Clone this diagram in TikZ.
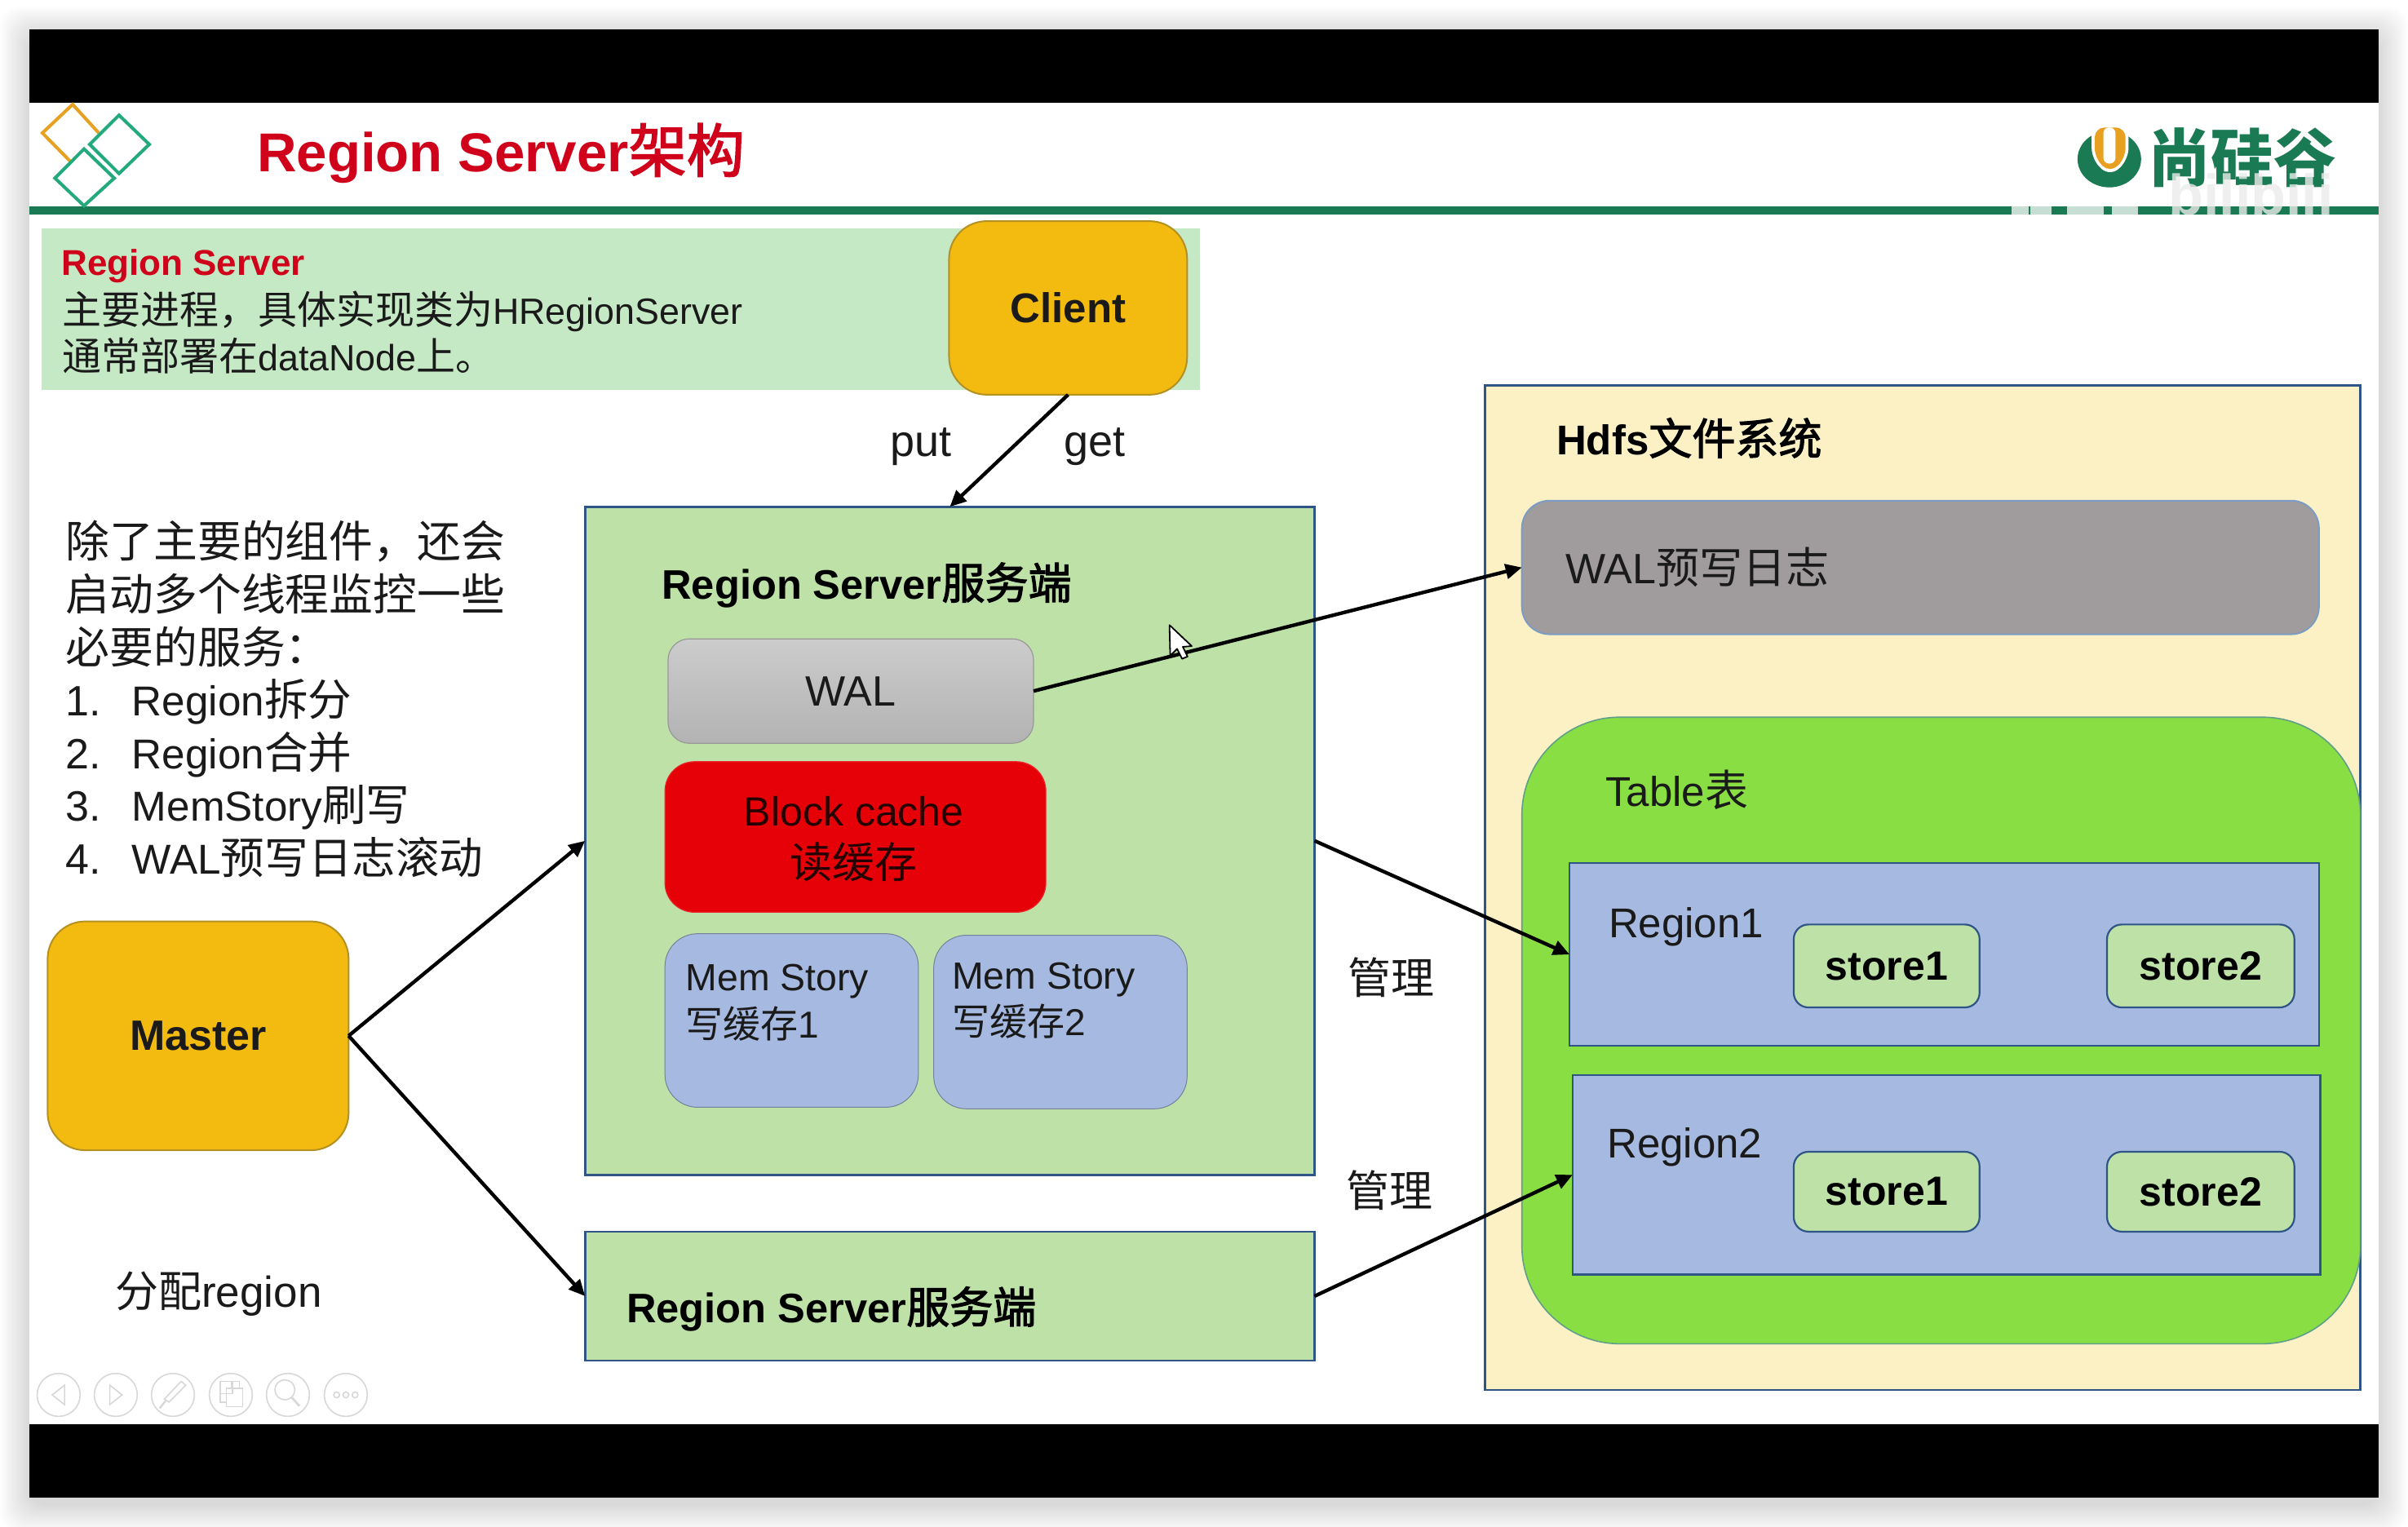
\documentclass[tikz,border=0pt]{standalone}
\usepackage{fontspec}
\setmainfont{Liberation Sans}
\newfontfamily\cjk{Noto Sans CJK SC}
\newfontfamily\cjkb{Noto Sans CJK SC}[FakeBold=2.2]
\usetikzlibrary{arrows.meta,shapes.geometric}
\definecolor{ink}{HTML}{1A1A1A}
\definecolor{brandgreen}{HTML}{1A7A54}
\definecolor{logogreen}{HTML}{22A97C}
\definecolor{logoorange}{HTML}{E8A020}
\definecolor{titlered}{HTML}{D0021B}
\definecolor{bandgreen}{HTML}{C5E8C5}
\definecolor{gold}{HTML}{F3BA0F}
\definecolor{goldline}{HTML}{B39020}
\definecolor{rsgreen}{HTML}{BDE1A7}
\definecolor{navy}{HTML}{2E5585}
\definecolor{hdfsyellow}{HTML}{FCF0C5}
\definecolor{tablegreen}{HTML}{88DE43}
\definecolor{tableline}{HTML}{5FA08A}
\definecolor{regionblue}{HTML}{A6B9E0}
\definecolor{loggray}{HTML}{A09B9D}
\definecolor{logline}{HTML}{7C9CC4}
\definecolor{cachered}{HTML}{E60008}
\definecolor{toolgray}{HTML}{D8D8D8}
\newcommand{\fs}[1]{\fontsize{#1}{#1}\selectfont}
\newcommand{\zh}[2]{{\cjk\fontsize{#1}{#1}\selectfont #2}}
\newcommand{\zb}[2]{{\cjkb\mdseries\fontsize{#1}{#1}\selectfont #2}}
\newcommand{\bx}[7]{%
  \pgfmathsetmacro\bxw{(#5-#3)*0.94133}%
  \pgfmathsetmacro\bxh{(#6-#4)*0.94133}%
  \pgfmathsetmacro\bxx{(#3+#5)/2}%
  \pgfmathsetmacro\bxy{(#4+#6)/2}%
  \node[#2,minimum width=\bxw pt,minimum height=\bxh pt,inner sep=0pt,outer sep=0pt] (#1) at (\bxx,\bxy) {#7};}
\newcommand{\tx}[4]{\node[lab] (#1) at (#2,#3) {#4};}
\tikzset{
  lab/.style={inner sep=0pt,outer sep=0pt,anchor=base west,text=ink},
  labc/.style={inner sep=0pt,outer sep=0pt,anchor=base,text=ink},
  goldbox/.style={draw=goldline,line width=1pt,fill=gold,rounded corners=23pt,text=ink},
  rsbox/.style={draw=navy,line width=1.3pt,fill=rsgreen},
  regionbox/.style={draw=navy,line width=1.3pt,fill=regionblue},
  storebox/.style={draw=navy,line width=1.1pt,fill=rsgreen,rounded corners=9pt,text=black},
  membox/.style={draw=black!30!regionblue,line width=.5pt,fill=regionblue,rounded corners=20pt},
  conn/.style={draw=black,line width=2.2pt,-{Triangle[length=10pt,width=9pt]}},
  toolbtn/.style={draw=toolgray,line width=.8pt,fill=none},
  diamondline/.style={line width=2pt,line join=miter},
}
\begin{document}
\begin{tikzpicture}[x=0.94133pt,y=-0.94133pt]
\useasboundingbox (0,0) rectangle (1568,994.3);
\fill[white] (0,0) rectangle (1568,994.3);
% soft shadow
\foreach \d in {1,...,19}{
  \fill[black,opacity=.008,rounded corners=12pt] (19.1-\d,19.1-\d+4) rectangle (1548.8+\d,975.3+\d+4);
}
% slide
\fill[white] (19.1,19.1) rectangle (1548.8,975.3);
\fill[black] (19.1,19.1) rectangle (1548.8,66.9);
\fill[black] (19.1,927.4) rectangle (1548.8,975.3);
\fill[brandgreen] (19.1,134.4) rectangle (1548.8,139.7);
% logo diamonds
\draw[logoorange,diamondline] (45.7,105) -- (27.6,86.6) -- (47.3,68) -- (64.3,86.6);
\draw[logogreen,diamondline] (77.5,75) -- (97.2,94) -- (77.5,113) -- (58.4,94) -- cycle;
\draw[white,line width=4pt] (54.7,97) -- (74.4,116);
\draw[logogreen,diamondline] (54.7,97) -- (74.4,116) -- (54.7,134) -- (35.8,116) -- cycle;
% title
\tx{title}{167.4}{112}{\bfseries\color{titlered}\fs{33.6}Region Server\zb{35.5}{架构}}
% brand logo
\fill[brandgreen] (1373.5,103.6) ellipse (20.7 and 18.4);
\fill[white,rounded corners=7pt] (1362,81) -- (1386,81) -- (1386,104) -- (1374,115) -- (1362,104) -- cycle;
\fill[logoorange,rounded corners=6pt] (1364,83) -- (1384,83) -- (1384,103) -- (1374,112.6) -- (1364,103) -- cycle;
\fill[white,rounded corners=3.5pt] (1369.6,83) -- (1377.5,83) -- (1377.5,106.5) -- (1369.6,106.5) -- cycle;
\tx{brand}{1399}{118}{\color{brandgreen}\bfseries\zh{38.5}{尚硅谷}}
% watermark
\node[inner sep=0pt,outer sep=0pt,anchor=base west,text=black!8,opacity=.8] (mark) at (1412,140) {\bfseries\fs{35}bilibili};
\foreach \a/\b in {1310/1321,1322/1336,1346/1370,1375/1392}{
  \fill[brandgreen!25] (\a,134.4) rectangle (\b,139.7);
}
% band
\fill[bandgreen] (27,148.5) rectangle (781.5,254);
\tx{rstitle}{40}{179}{\bfseries\color{titlered}\fs{22}Region Server}
\tx{rsl1}{40.5}{211}{\zh{24}{主要进程，具体实现类为}\fs{22.4}HRegionServer}
\tx{rsl2}{40.5}{241.5}{\zh{24}{通常部署在}\fs{22.4}dataNode\zh{24}{上。}}
% boxes
\bx{client}{goldbox}{618}{144}{773}{257}{\bfseries\fs{25.5}Client}
\bx{master}{goldbox}{31}{600}{227}{749}{\bfseries\fs{26}Master}
\bx{rsa}{rsbox}{381}{330}{856}{765}{}
\bx{rsb}{rsbox}{381}{802}{856}{886}{}
\bx{hdfs}{draw=navy,line width=1.2pt,fill=hdfsyellow}{967}{251}{1537}{905}{}
\bx{wallog}{draw=logline,line width=1pt,fill=loggray,rounded corners=17pt}{991}{326}{1510}{413}{}
\bx{table}{draw=tableline,line width=.8pt,fill=tablegreen,rounded corners=60pt}{991}{467}{1537}{875}{}
\bx{regiona}{regionbox}{1022}{562}{1510}{681}{}
\bx{regionb}{regionbox}{1024}{700}{1511}{830}{}
\bx{storea}{storebox}{1168}{602}{1289}{656}{\bfseries\fs{25}store1}
\bx{storeb}{storebox}{1372}{602}{1494}{656}{\bfseries\fs{25}store2}
\bx{storec}{storebox}{1168}{750}{1289}{802}{\bfseries\fs{25}store1}
\bx{stored}{storebox}{1372}{750}{1494}{802}{\bfseries\fs{25}store2}
\bx{wal}{draw=black!40,line width=.6pt,top color=black!20,bottom color=black!30,rounded corners=13pt,text=ink}{435}{416}{673}{484}{\fs{26}WAL}
\bx{cache}{draw=cachered!85!white,line width=.6pt,fill=cachered,rounded corners=18pt}{433}{496}{681}{594}{}
\bx{mema}{membox}{433}{608}{598}{721}{}
\bx{memb}{membox}{608}{609}{773}{722}{}
% box texts
\tx{rsat}{431}{390}{\bfseries\color{black}\fs{25.3}Region Server\zb{26.5}{服务端}}
\tx{rsbt}{408}{861.5}{\bfseries\color{black}\fs{25.3}Region Server\zb{26.5}{服务端}}
\node[labc] (cachea) at (556,538) {\color{black!85!red}\fs{25}Block cache};
\node[labc] (cacheb) at (556,572) {\color{black!85!red}\zh{26}{读缓存}};
\tx{memaa}{446.5}{645}{\fs{23.2}Mem Story}
\tx{memab}{446.5}{676}{\zh{23}{写缓存}\fs{23}1}
\tx{memba}{620}{644}{\fs{23.2}Mem Story}
\tx{membb}{620}{674.5}{\zh{23}{写缓存}\fs{23}2}
\tx{hdfst}{1013.5}{296}{\bfseries\color{black}\fs{25.5}Hdfs\zb{26.5}{文件系统}}
\tx{wallogt}{1019.5}{380}{\fs{26}WAL\zh{26.5}{预写日志}}
\tx{tablet}{1045.5}{525}{\fs{25.5}Table\zh{26.5}{表}}
\tx{regionat}{1047.5}{610.5}{\fs{25.5}Region1}
\tx{regionbt}{1046.5}{754}{\fs{25.5}Region2}
% left notes
\tx{noa}{43}{363.3}{\zh{26.9}{除了主要的组件，还会}}
\tx{nob}{43}{397.7}{\zh{26.9}{启动多个线程监控一些}}
\tx{noc}{43}{432.1}{\zh{26.9}{必要的服务：}}
\tx{nd}{43}{466}{\fs{26}1.}
\tx{ne}{43}{500.4}{\fs{26}2.}
\tx{nf}{43}{534.8}{\fs{26}3.}
\tx{ng}{43}{569.2}{\fs{26}4.}
\tx{ld}{86}{466}{\fs{25.6}Region\zh{26.8}{拆分}}
\tx{le}{86}{500.4}{\fs{25.6}Region\zh{26.8}{合并}}
\tx{lf}{86}{534.8}{\fs{25.6}MemStory\zh{26.8}{刷写}}
\tx{lg}{86}{569.2}{\fs{25.6}WAL\zh{26.8}{预写日志滚动}}
% labels
\node[labc] (put) at (599.5,297) {\fs{27}put};
\node[labc] (get) at (713,297) {\fs{27}get};
\node[labc] (mga) at (906,647) {\zh{26.5}{管理}};
\node[labc] (mgb) at (905,786) {\zh{26.5}{管理}};
\tx{alloc}{75}{851}{\zh{26.5}{分配}\fs{26.5}region}
% connectors
\draw[conn] (client.south) -- (rsa.north);
\draw[conn] (wal.east) -- (wallog.west);
\draw[conn] (rsa.east) -- (regiona.west);
\draw[conn] (rsb.east) -- (regionb.west);
\draw[conn] (master.east) -- (rsa.west);
\draw[conn] (master.east) -- (rsb.west);
% cursor
\draw[fill=white,draw=black,line width=.9pt,line join=round] (761.5,407) -- (762,427) -- (766.5,422.5) -- (769.7,429) -- (773.3,427.5) -- (770.2,421.2) -- (776,420.7) -- cycle;
% toolbar
\foreach \c in {38.2,75.4,112.6,150.3,187.5,225.2}{
  \draw[toolbtn] (\c,908.3) circle (14);
}
\draw[toolbtn] (42,902) -- (34,908.3) -- (42,914.6) -- cycle;
\draw[toolbtn] (71.5,902) -- (79.5,908.3) -- (71.5,914.6) -- cycle;
\draw[toolbtn] (118,899.5) -- (121,902) -- (110,913) -- (107,911) -- cycle;
\draw[toolbtn,line width=1.2pt] (108,912) -- (104,917);
\draw[toolbtn] (143.5,899.5) rectangle (151.5,907.5);
\draw[toolbtn] (151,899.5) rectangle (156,904);
\draw[toolbtn] (143.5,907.5) rectangle (147.5,913);
\draw[toolbtn] (147.5,904) rectangle (158,916);
\draw[toolbtn] (185.5,905) circle (6.5);
\draw[toolbtn,line width=1.4pt] (190,910) -- (195,915.5);
\foreach \c in {219.2,225.2,231.2}{
  \draw[toolbtn] (\c,908.3) circle (1.9);
}
\end{tikzpicture}
\end{document}
